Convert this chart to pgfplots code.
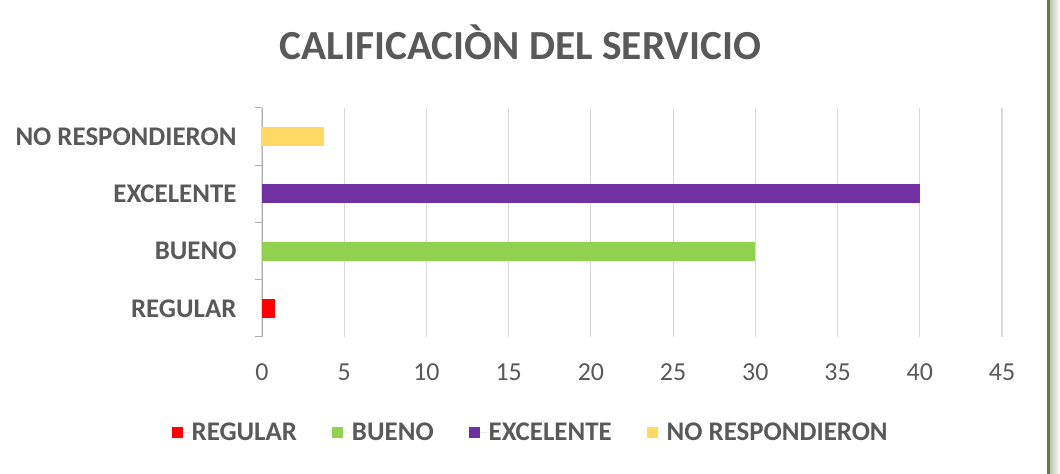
\documentclass[border=0pt]{standalone}
\usepackage{pgfplots}
\pgfplotsset{compat=1.18}
\usepackage{fontspec}
\setmainfont{Carlito}
\definecolor{txt}{HTML}{595959}
\definecolor{gridc}{HTML}{D9D9D9}
\definecolor{cRed}{HTML}{FF0000}
\definecolor{cGreen}{HTML}{92D050}
\definecolor{cPurple}{HTML}{7030A0}
\definecolor{cYellow}{HTML}{FFD966}
\definecolor{framec}{HTML}{6B774A}
\begin{document}
\begin{tikzpicture}[x=1bp,y=1bp]
\useasboundingbox (0,0) rectangle (1060,474);
\fill[white] (0,0) rectangle (1060,474);
\fill[left color=framec!45, right color=white] (1049.5,0) rectangle (1060,474);
\fill[framec] (1047,0) rectangle (1049.5,474);
\node[anchor=base, text=txt, font=\fontsize{41.5}{44}\selectfont\bfseries] at (520.5,414) {CALIFICACIÒN DEL SERVICIO};
\begin{axis}[
  at={(262bp,137bp)}, anchor=south west,
  scale only axis, width=740bp, height=229bp,
  xbar, bar width=19bp, bar shift=0pt,
  xmin=0, xmax=45, ymin=0.5, ymax=4.5,
  xtick={0,5,...,45},
  ytick={1,2,3,4},
  yticklabels={REGULAR,BUENO,EXCELENTE,NO RESPONDIERON},
  extra y ticks={0.5,1.5,2.5,3.5,4.5},
  extra y tick labels={},
  extra y tick style={major tick length=7bp, tick align=outside, ymajorgrids=false,
     major tick style={draw=gray!60, line width=1bp}},
  major tick length=0pt,
  xmajorgrids, major grid style={draw=gridc, line width=1.2bp},
  axis x line=bottom, axis y line=left,
  x axis line style={draw=none},
  y axis line style={-, draw=gray!60, line width=1bp},
  xticklabel style={font=\fontsize{26}{28}\selectfont, text=txt, yshift=-23bp},
  yticklabel style={font=\fontsize{27}{29}\selectfont\bfseries, text=txt, xshift=-22bp},
  /pgf/number format/assume math mode=true,
  legend columns=4,
  legend style={at={(0.363,-0.415)}, anchor=center, draw=none, fill=none,
     font=\fontsize{27}{29}\selectfont\bfseries, text=txt,
     /tikz/every even column/.append style={column sep=33bp},
     /tikz/every odd column/.append style={column sep=0bp}},
  legend image code/.code={\fill[#1, draw=none] (0bp,-5.5bp) rectangle (11bp,5.5bp); \path (0bp,0bp) -- (18bp,0bp);},
]
\addplot[fill=cRed, draw=none, bar shift=0pt] coordinates {(0.8,1)};
\addplot[fill=cGreen, draw=none, bar shift=0pt] coordinates {(30,2)};
\addplot[fill=cPurple, draw=none, bar shift=0pt] coordinates {(40,3)};
\addplot[fill=cYellow, draw=none, bar shift=0pt] coordinates {(3.8,4)};
\legend{REGULAR,BUENO,EXCELENTE,NO RESPONDIERON}
\end{axis}
\end{tikzpicture}
\end{document}
